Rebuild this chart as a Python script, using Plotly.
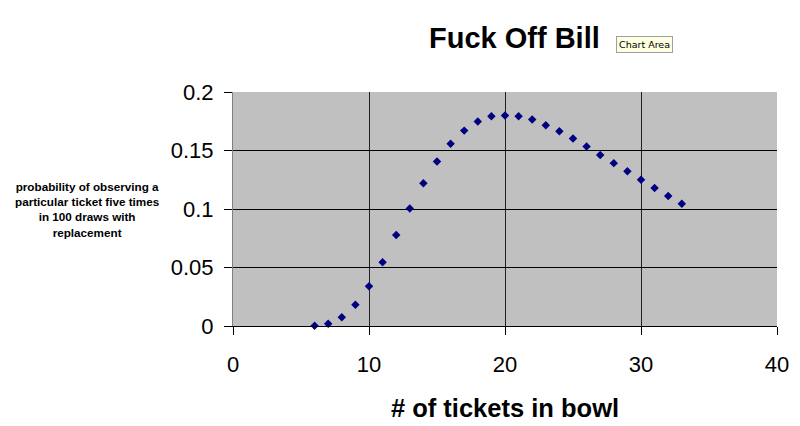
import plotly.graph_objects as go

tickets = [6, 7, 8, 9, 10, 11, 12, 13, 14, 15, 16, 17, 18, 19, 20,
           21, 22, 23, 24, 25, 26, 27, 28, 29, 30, 31, 32, 33]
probability = [0.0002, 0.0020, 0.0075, 0.0181, 0.0339, 0.0544, 0.0777, 0.1005,
               0.1220, 0.1406, 0.1557, 0.1670, 0.1748, 0.1793, 0.1800, 0.1792,
               0.1765, 0.1716, 0.1664, 0.1602, 0.1535, 0.1462, 0.1392, 0.1322,
               0.1250, 0.1180, 0.1112, 0.1045]
x_ticks = [0, 10, 20, 30, 40]
y_ticks = [0, 0.05, 0.1, 0.15, 0.2]
y_tick_labels = ["0", "0.05", "0.1", "0.15", "0.2"]

FONT = "Liberation Sans, Arial, sans-serif"

fig = go.Figure()
fig.add_trace(go.Scatter(
    x=tickets, y=probability, mode="markers",
    marker=dict(symbol="diamond", size=6.5, color="#000080"),
    hoverinfo="skip", cliponaxis=False,
))

fig.update_layout(
    width=800, height=426,
    margin=dict(l=233, r=23, t=92, b=100, autoexpand=False),
    paper_bgcolor="white",
    plot_bgcolor="#c0c0c0",
    showlegend=False,
    title=dict(text="<b>Fuck Off Bill</b>", x=0.643, xanchor="center",
               y=0.911, yanchor="middle",
               font=dict(family=FONT, size=29, color="black")),
    xaxis=dict(range=[-0.0001, 40.0001], tickvals=x_ticks, showgrid=True,
               gridcolor="#202020", gridwidth=1, zeroline=False, showline=True,
               linecolor="black", linewidth=1, ticks="outside", ticklen=8,
               tickcolor="black", ticklabelstandoff=11,
               tickfont=dict(family=FONT, size=22, color="black"),
               title=dict(text="<b># of tickets in bowl</b>", standoff=22,
                          font=dict(family=FONT, size=25.5, color="black"))),
    yaxis=dict(range=[0, 0.2], tickvals=y_ticks, ticktext=y_tick_labels,
               showgrid=True, gridcolor="black", gridwidth=1, zeroline=False,
               showline=True, linecolor="#808080", linewidth=1, ticks="outside",
               ticklen=8, tickcolor="black", ticklabelstandoff=6,
               tickfont=dict(family=FONT, size=22, color="black")),
)

fig.add_annotation(
    text="<b>probability of observing a<br>particular ticket five times<br>in 100 draws with<br>replacement</b>",
    xref="paper", yref="paper", x=-0.268, y=0.5, xanchor="center", yanchor="middle",
    showarrow=False, align="center",
    font=dict(family=FONT, size=11.7, color="black"),
)

fig.add_annotation(
    text="Chart Area",
    xref="paper", yref="paper", x=0.757, y=1.201, xanchor="center", yanchor="middle",
    showarrow=False, bgcolor="#ffffe1", bordercolor="#a0a0a0", borderwidth=1,
    borderpad=2, font=dict(family="DejaVu Sans, sans-serif", size=9.5, color="black"),
)

fig.write_html("out.html", config={"displayModeBar": False},
               post_script="document.body.style.margin='0';")
